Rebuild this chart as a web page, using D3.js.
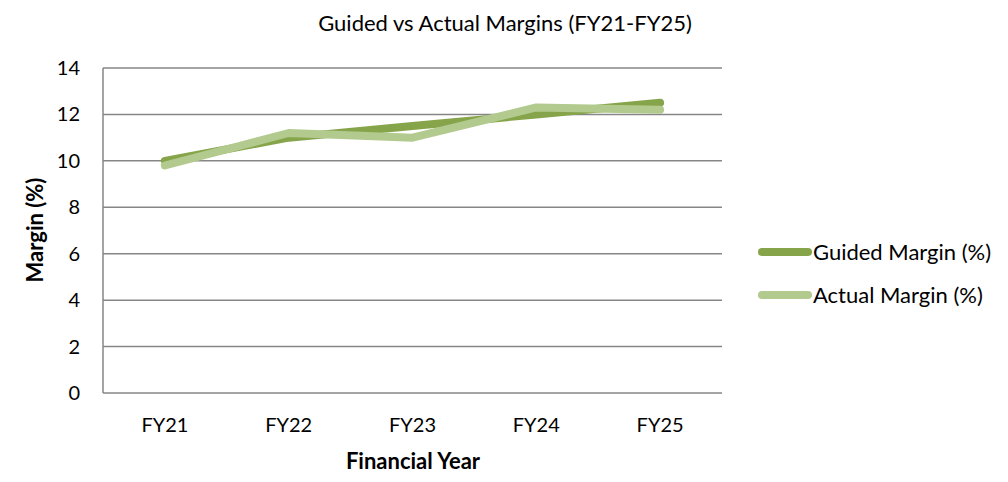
<!DOCTYPE html>
<html>
<head>
<meta charset="utf-8">
<script src="https://d3js.org/d3.v7.min.js"></script>
<style>
  body { margin: 0; background: #fff; }
  text { font-family: Lato, "Open Sans", sans-serif; fill: #000; }
</style>
</head>
<body>
<div id="chart"></div>
<script>
// data
let years = ["FY21", "FY22", "FY23", "FY24", "FY25"];
let guided = [10.0, 11.0, 11.5, 12.0, 12.5];
let actual = [9.8, 11.2, 11.0, 12.3, 12.2];
let yTicks = [0, 2, 4, 6, 8, 10, 12, 14];
let seriesNames = ["Guided Margin (%)", "Actual Margin (%)"];
let seriesColors = ["#86a44a", "#b3ca8f"];

let width = 1008, height = 482;
let plotLeft = 103, plotRight = 722, plotTop = 68, plotBottom = 393;

let svg = d3.select("#chart").append("svg")
  .attr("width", width)
  .attr("height", height);

let xScale = d3.scaleBand().domain(years).range([plotLeft, plotRight]);
let yScale = d3.scaleLinear().domain([0, 14]).range([plotBottom, plotTop]);

// gridlines
svg.append("g")
  .selectAll("line")
  .data(yTicks)
  .enter()
  .append("line")
  .attr("x1", plotLeft)
  .attr("x2", plotRight)
  .attr("y1", d => yScale(d))
  .attr("y2", d => yScale(d))
  .attr("stroke", "#868686")
  .attr("stroke-width", 1.5);

// y axis line
svg.append("line")
  .attr("x1", plotLeft).attr("x2", plotLeft)
  .attr("y1", plotTop).attr("y2", plotBottom)
  .attr("stroke", "#868686")
  .attr("stroke-width", 1.5);

// y tick labels
svg.append("g")
  .selectAll("text")
  .data(yTicks)
  .enter()
  .append("text")
  .attr("x", 80)
  .attr("y", d => yScale(d) + 7)
  .attr("text-anchor", "end")
  .attr("font-size", 20)
  .text(d => d);

// x tick labels
svg.append("g")
  .selectAll("text")
  .data(years)
  .enter()
  .append("text")
  .attr("x", d => xScale(d) + xScale.bandwidth() / 2)
  .attr("y", 432)
  .attr("text-anchor", "middle")
  .attr("font-size", 20)
  .text(d => d);

// titles
svg.append("text")
  .attr("x", 505).attr("y", 31)
  .attr("text-anchor", "middle")
  .attr("font-size", 22)
  .text("Guided vs Actual Margins (FY21-FY25)");

svg.append("text")
  .attr("x", 413).attr("y", 469)
  .attr("text-anchor", "middle")
  .attr("font-size", 22)
  .attr("font-weight", "bold")
  .text("Financial Year");

svg.append("text")
  .attr("transform", "translate(43,230) rotate(-90)")
  .attr("text-anchor", "middle")
  .attr("font-size", 22)
  .attr("font-weight", "bold")
  .text("Margin (%)");

// lines
let line = d3.line()
  .x((d, i) => xScale(years[i]) + xScale.bandwidth() / 2)
  .y(d => yScale(d));

[guided, actual].forEach(function(series, i) {
  svg.append("path")
    .attr("d", line(series))
    .attr("fill", "none")
    .attr("stroke", seriesColors[i])
    .attr("stroke-width", 8)
    .attr("stroke-linecap", "round")
    .attr("stroke-linejoin", "round");
});

// legend
let legend = svg.append("g")
  .selectAll("g")
  .data(seriesNames)
  .enter()
  .append("g")
  .attr("transform", (d, i) => "translate(0," + (252 + i * 43) + ")");

legend.append("line")
  .attr("x1", 762).attr("x2", 808)
  .attr("stroke", (d, i) => seriesColors[i])
  .attr("stroke-width", 8)
  .attr("stroke-linecap", "round");

legend.append("text")
  .attr("x", 813)
  .attr("y", 8)
  .attr("font-size", 22)
  .text(d => d);
</script>
</body>
</html>
